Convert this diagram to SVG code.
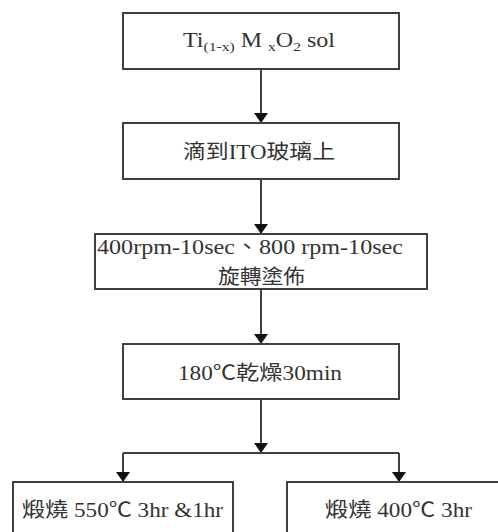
<svg xmlns="http://www.w3.org/2000/svg" width="498" height="532" viewBox="0 0 498 532">
<defs>
<style>
.box{fill:#fff;stroke:#404040;stroke-width:2}
.ln{fill:none;stroke:#404040;stroke-width:2}
.t{font-family:"Liberation Serif","Noto Sans CJK TC",serif;font-size:20px;fill:#333}
.s{font-size:13px}
</style>
<marker id="ah" viewBox="0 0 10 14" refX="10" refY="7" markerWidth="10" markerHeight="14" markerUnits="userSpaceOnUse" orient="auto">
<path d="M0,0 L10,7 L0,14 Z" fill="#111"/>
</marker>
</defs>
<rect width="498" height="532" fill="#fff"/>
<g id="connectors">
<line class="ln" x1="261" y1="69" x2="261" y2="123" marker-end="url(#ah)"/>
<line class="ln" x1="261" y1="179" x2="261" y2="234" marker-end="url(#ah)"/>
<line class="ln" x1="261" y1="289" x2="261" y2="344" marker-end="url(#ah)"/>
<line class="ln" x1="261" y1="399" x2="261" y2="453" marker-end="url(#ah)"/>
<line class="ln" x1="123" y1="453" x2="399" y2="453"/>
<line class="ln" x1="123" y1="453" x2="123" y2="482" marker-end="url(#ah)"/>
<line class="ln" x1="399" y1="453" x2="399" y2="482" marker-end="url(#ah)"/>
</g>
<g id="n1">
<rect class="box" x="123" y="13" width="276" height="56"/>
<text class="t" x="183" y="47" textLength="152" lengthAdjust="spacingAndGlyphs">Ti<tspan class="s" dy="4">(1-x)</tspan><tspan dy="-4"> M </tspan><tspan class="s" dy="4">x</tspan><tspan dy="-4">O</tspan><tspan class="s" dy="4">2</tspan><tspan dy="-4"> sol</tspan></text>
</g>
<g id="n2">
<rect class="box" x="123" y="123" width="276" height="56"/>
<text class="t" x="183" y="159" textLength="152" lengthAdjust="spacingAndGlyphs">滴到ITO玻璃上</text>
</g>
<g id="n3">
<rect class="box" x="95" y="234" width="332" height="55"/>
<text class="t" x="97" y="254" textLength="306" lengthAdjust="spacingAndGlyphs">400rpm-10sec、800 rpm-10sec</text>
<text class="t" x="218" y="284" textLength="87" lengthAdjust="spacingAndGlyphs">旋轉塗佈</text>
</g>
<g id="n4">
<rect class="box" x="123" y="344" width="276" height="55"/>
<text class="t" x="178" y="380" textLength="164" lengthAdjust="spacingAndGlyphs">180℃乾燥30min</text>
</g>
<g id="n5">
<rect class="box" x="13" y="482" width="220" height="70"/>
<text class="t" x="22" y="517" textLength="201" lengthAdjust="spacingAndGlyphs">煅燒 550℃ 3hr &amp;1hr</text>
</g>
<g id="n6">
<rect class="box" x="287" y="482" width="230" height="70"/>
<text class="t" x="325" y="517" textLength="147" lengthAdjust="spacingAndGlyphs">煅燒 400℃ 3hr</text>
</g>
</svg>
